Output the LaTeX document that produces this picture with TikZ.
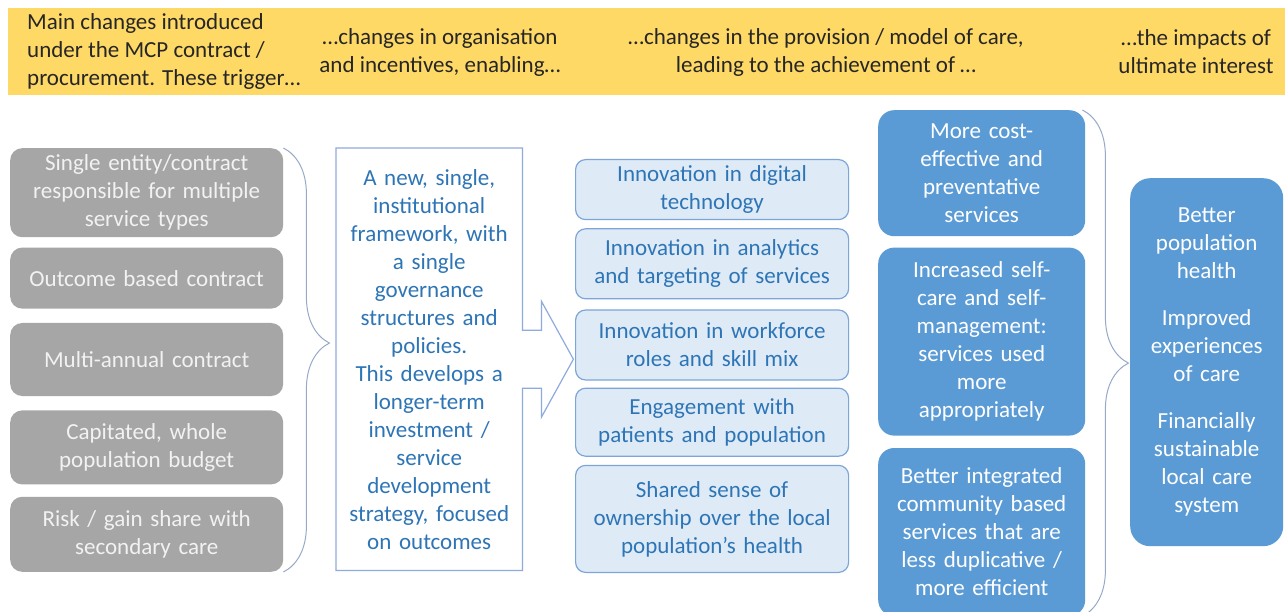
\documentclass[tikz,border=0pt]{standalone}
\usepackage{fontspec}
\setmainfont{Carlito}
\usetikzlibrary{positioning, calc, decorations.pathreplacing}
\definecolor{bandyellow}{RGB}{255,217,102}
\definecolor{greyfill}{RGB}{166,166,166}
\definecolor{greytext}{RGB}{242,242,242}
\definecolor{paleblue}{RGB}{222,235,247}
\definecolor{paleedge}{RGB}{125,165,215}
\definecolor{textblue}{RGB}{46,117,182}
\definecolor{midblue}{RGB}{91,155,213}
\definecolor{frameedge}{RGB}{143,170,220}
\definecolor{braceedge}{RGB}{150,170,200}
\tikzstyle{band} = [rectangle, inner sep=0pt, minimum width=1277pt, minimum height=87pt, fill=bandyellow]
\tikzstyle{heading} = [inner sep=0pt, align=center, text=black!85]
\tikzstyle{trigger} = [rectangle, rounded corners=12pt, minimum width=273pt, text width=268pt, align=center, inner sep=0pt, fill=greyfill, text=greytext]
\tikzstyle{framework} = [rectangle, minimum width=186pt, minimum height=422pt, text width=182pt, align=center, inner sep=0pt, text=textblue]
\tikzstyle{frameline} = [draw=frameedge, line width=1.2pt, line join=miter]
\tikzstyle{enabler} = [rectangle, rounded corners=10pt, minimum width=273pt, text width=268pt, align=center, inner sep=0pt, fill=paleblue, draw=paleedge, line width=1.2pt, text=textblue]
\tikzstyle{outcome} = [rectangle, rounded corners=16pt, minimum width=207pt, text width=202pt, align=center, inner sep=0pt, fill=midblue, text=white]
\tikzstyle{bracket} = [draw=braceedge, line width=1pt, decorate, decoration={brace, amplitude=46pt}]

\begin{document}
\begin{tikzpicture}[x=1pt, y=-1pt, every node/.style={font=\fontsize{23}{28}\selectfont}]

\useasboundingbox[fill=white] (0,0) rectangle (1285,612);

% header band
\node (band) [band, anchor=north west] at (8,8) {};
\node (head1) [heading, anchor=west, align=left] at (27,51) {Main changes introduced\\under the MCP contract /\\procurement. These trigger…};
\node (head2) [heading] at (440,52) {…changes in organisation\\and incentives, enabling…};
\node (head3) [heading] at (826,52) {…changes in the provision / model of care,\\leading to the achievement of …};
\node (head4) [heading] at (1196,52) {…the impacts of\\ultimate interest};

% contract changes
\node (single) [trigger, minimum height=89pt, anchor=north west] at (10,148) {Single entity/contract\\responsible for multiple\\service types};
\node (outcomebased) [trigger, minimum height=61pt, below=10pt of single] {Outcome based contract};
\node (multiannual) [trigger, minimum height=73pt, below=14pt of outcomebased] {Multi-annual contract};
\node (capitated) [trigger, minimum height=74pt, below=14pt of multiannual] {Capitated, whole\\population budget};
\node (riskshare) [trigger, minimum height=75pt, below=12pt of capitated] {Risk / gain share with\\secondary care};

\draw [bracket, decoration={aspect=0.46}] (single.north east) -- (riskshare.south east);

% organisation and incentives
\node (framework) [framework, anchor=north west] at (336,148) {A new, single,\\institutional\\framework, with\\a single\\governance\\structures and\\policies.\\This develops a\\longer-term\\investment /\\service\\development\\strategy, focused\\on outcomes};
\draw [frameline] (framework.north west) -- (framework.north east)
  -- ($(framework.east)+(0,-29)$) -- ++(19,0) -- ++(0,-29)
  -- ($(framework.east)+(51,0)$) -- ($(framework.east)+(19,58)$) -- ++(0,-29)
  -- ($(framework.east)+(0,29)$) -- (framework.south east) -- (framework.south west) -- cycle;

% provision / model of care
\node (digital) [enabler, minimum height=60pt, anchor=north west] at (575,159) {Innovation in digital\\technology};
\node (analytics) [enabler, minimum height=70pt, below=8pt of digital] {Innovation in analytics\\and targeting of services};
\node (workforce) [enabler, minimum height=70pt, below=10pt of analytics] {Innovation in workforce\\roles and skill mix};
\node (engagement) [enabler, minimum height=68pt, below=7pt of workforce] {Engagement with\\patients and population};
\node (ownership) [enabler, minimum height=107pt, below=8pt of engagement] {Shared sense of\\ownership over the local\\population’s health};

\node (costeffective) [outcome, minimum height=126pt, anchor=north west] at (878,110) {More cost-\\effective and\\preventative\\services};
\node (selfcare) [outcome, minimum height=188pt, below=11pt of costeffective] {Increased self-\\care and self-\\management:\\services used\\more\\appropriately};
\node (integrated) [outcome, minimum height=168pt, below=12pt of selfcare] {Better integrated\\community based\\services that are\\less duplicative /\\more efficient};

\draw [bracket, decoration={aspect=0.5}] ([xshift=-3pt]costeffective.north east) -- ([xshift=-3pt]integrated.south east);

% ultimate impacts
\node (impacts) [outcome, rounded corners=20pt, minimum width=153pt, text width=150pt, minimum height=368pt, anchor=north west] at (1130,178) {Better\\population\\health\\[19pt]Improved\\experiences\\of care\\[19pt]Financially\\sustainable\\local care\\system};

\end{tikzpicture}
\end{document}
